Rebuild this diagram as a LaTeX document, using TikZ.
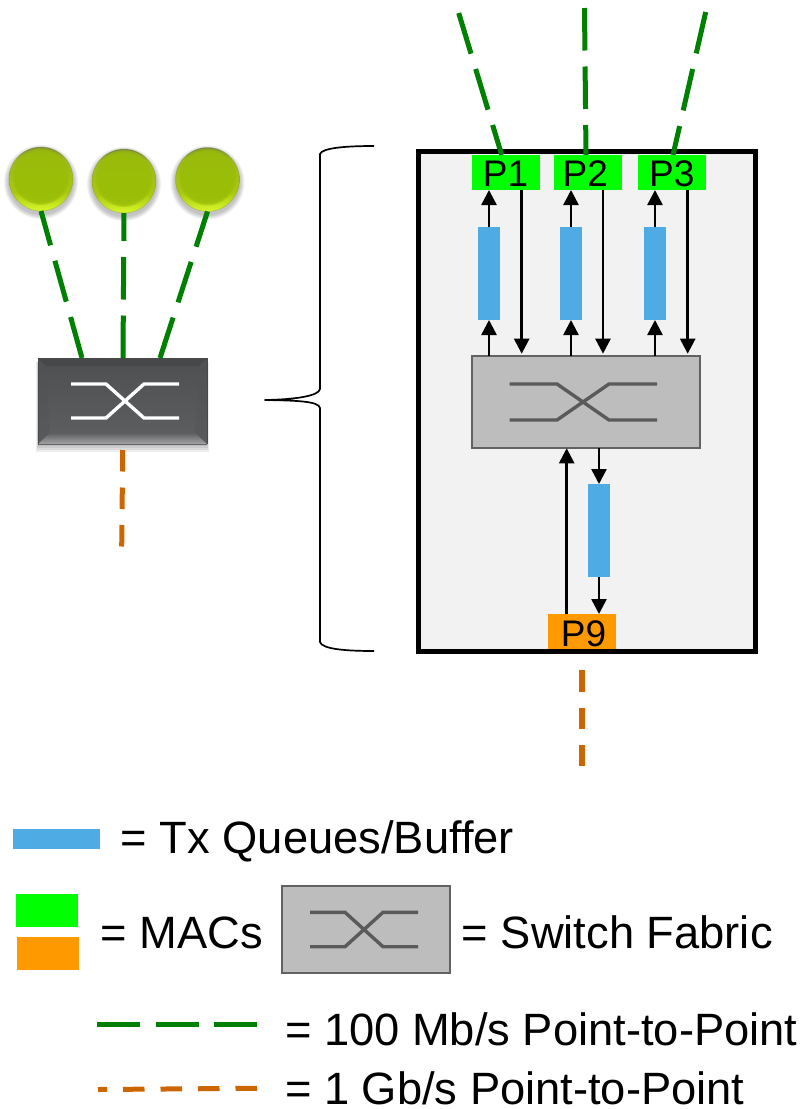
\documentclass[tikz,border=0pt]{standalone}
\usepackage{fontspec}
\setmainfont{Liberation Sans}
\usetikzlibrary{arrows.meta}
\definecolor{qblue}{HTML}{4EABE4}
\definecolor{macgreen}{HTML}{00FF00}
\definecolor{macorange}{HTML}{FF9900}
\definecolor{fabgray}{HTML}{BDBDBD}
\definecolor{fabline}{HTML}{626262}
\definecolor{crossgray}{HTML}{5A5A5A}
\definecolor{linkgreen}{HTML}{008000}
\definecolor{linkbrown}{HTML}{CC6600}
\definecolor{panel}{HTML}{F2F2F2}
\definecolor{ballrim}{HTML}{7C8A40}
\definecolor{balltop}{HTML}{9DB820}
\definecolor{ballside}{HTML}{A8C80E}
\definecolor{balllow}{HTML}{D8F82C}
\definecolor{ballmain}{HTML}{9ABD08}
\definecolor{swupper}{HTML}{4E4F51}
\definecolor{swlower}{HTML}{5E5F61}
\definecolor{swtop}{HTML}{47484A}
\definecolor{swside}{HTML}{525355}
\definecolor{swbeva}{HTML}{5E5F61}
\definecolor{swbevb}{HTML}{A4A4A6}
\definecolor{swedge}{HTML}{48484A}
\pgfdeclareverticalshading{ballshade}{100bp}{
  color(0bp)=(balllow); color(25bp)=(balllow); color(40bp)=(ballside); color(66bp)=(balltop);
  color(75bp)=(ballrim); color(100bp)=(ballrim)}
\tikzset{
  box/.style={rectangle,inner sep=0pt,outer sep=0pt,minimum width=#1},
  qbox/.style={box=22pt,minimum height=93pt,fill=qblue},
  macg/.style={box=68pt,minimum height=35pt,fill=macgreen},
  maco/.style={box=68pt,minimum height=35pt,fill=macorange},
  fabric/.style={rectangle,inner sep=0pt,outer sep=0pt,fill=fabgray,draw=fabline,line width=2pt},
  crossline/.style={crossgray,line width=3.4pt,line join=miter},
  whitecross/.style={white,line width=3.4pt,line join=miter},
  hundred/.style={linkgreen,line width=5pt,dash pattern=on 42.5pt off 16pt},
  gig/.style={linkbrown,line width=5pt,dash pattern=on 21.5pt off 16pt},
  arr/.style={black,line width=2.5pt,-{Triangle[length=15pt,width=15pt]}},
  ball/.style={circle,inner sep=0pt,outer sep=0pt,minimum size=64pt,shading=ballshade},
  ptext/.style={inner sep=0pt,outer sep=0pt,anchor=base,font=\fontsize{37}{40}\selectfont},
  ltext/.style={inner sep=0pt,outer sep=0pt,anchor=base west,font=\fontsize{45.3}{50}\selectfont},
}
\begin{document}
\begin{tikzpicture}[x=1pt,y=-1pt]
\useasboundingbox (0,0) rectangle (803,1109);
% --- left: end stations and switch
\foreach \cx/\cy in {41/179,124/181,207.5/179.5}{
  \foreach \rr in {37,36,35,34,33}{
    \fill[black,opacity=.05] (\cx,\cy+3) circle (\rr);
  }
}
\node[ball] (c1) at (41,179) {};
\node[ball] (c2) at (124,181) {};
\node[ball] (c3) at (207.5,179.5) {};
\foreach \nn in {c1,c2,c3}{
  \foreach \rr in {28.5,27.5,26.5,25.5}{
    \fill[ballmain,opacity=.45] ([yshift=2.5pt]\nn.center) circle (\rr);
  }
  \draw[ballrim,line width=.6pt,opacity=.4] (\nn.center) circle (32);
}
\foreach \kk in {0,1,2,3}{
  \fill[black,opacity=.07] (38-\kk*.6,362) rectangle (207+\kk*.6,446+\kk*2);
}
\node[rectangle,inner sep=0pt,outer sep=0pt,minimum width=169pt,minimum height=86pt,top color=swupper,bottom color=swlower] (sw) at (122.5,401) {};
\fill[swtop] (38,358) -- (207,358) -- (199,366) -- (46,366) -- cycle;
\fill[swside,opacity=.35] (38,358) -- (46,366) -- (50,433) -- (38,444) -- cycle;
\fill[swside,opacity=.35] (207,358) -- (199,366) -- (195,433) -- (207,444) -- cycle;
\shade[top color=swbeva,bottom color=swbevb] (38,444) -- (207,444) -- (195,433) -- (50,433) -- cycle;
\draw[swedge,line width=.6pt] (38,358) -- (207,358) -- (207,444) (38,444) -- (38,358);
\draw[whitecross] (71,384) -- (106,384) -- (144,418) -- (179,418);
\draw[whitecross] (71,418) -- (106,418) -- (144,384) -- (179,384);
\draw[hundred] ([xshift=-40.5pt]sw.north) -- (c1.south);
\draw[hundred] ([xshift=.5pt]sw.north) -- (c2.south);
\draw[hundred] ([xshift=37.5pt]sw.north) -- (c3.south);
\coordinate (la) at (122.7,450);
\coordinate (lb) at (121.7,547);
\draw[gig] (la) -- (lb);
% --- brace
\draw[black,line width=1.7pt,line join=round] (374,146) .. controls (345,146) and (322,148) .. (320,154)
  -- (320,389) .. controls (319,396) and (295,399.5) .. (265,400)
  .. controls (295,400.5) and (319,401) .. (320,408)
  -- (320,642) .. controls (322,649) and (345,651) .. (374,651);
% --- right: panel
\node[rectangle,inner sep=0pt,outer sep=0pt,minimum width=336.6pt,minimum height=499.6pt,fill=panel,draw=black,line width=4.8pt] (panel) at (587,401.5) {};
\coordinate (t1) at (458.7,13);
\coordinate (t2) at (584.5,8);
\coordinate (t3) at (705.7,12);
\node[macg] (p1) at (506,172.5) {};
\node[macg] (p2) at (588,172.5) {};
\node[macg] (p3) at (672,172.5) {};
\node[maco] (p9) at (582,631.5) {};
\draw[hundred] (t1) -- ([xshift=-4.3pt]p1.north);
\draw[hundred] (t2) -- ([xshift=-2pt]p2.north);
\draw[hundred] (t3) -- ([xshift=1pt]p3.north);
\node[ptext] (p1t) at (505.5,186) {P1};
\node[ptext] (p2t) at (585.3,186) {P2};
\node[ptext] (p3t) at (671.7,186) {P3};
\node[ptext] (p9t) at (583.5,646) {P9};
\node[qbox] (q1) at (489,273.5) {};
\node[qbox] (q2) at (571,273.5) {};
\node[qbox] (q3) at (655,273.5) {};
\node[qbox] (q4) at (599,530.5) {};
\node[fabric,minimum width=228pt,minimum height=92.6pt] (fab) at (586,402) {};
\draw[crossline] (509.7,384) -- (557,384) -- (609,420) -- (657,420);
\draw[crossline] (509.7,420) -- (557,420) -- (609,384) -- (657,384);
\draw[arr] (q1.south |- fab.north) -- (q1.south);
\draw[arr] (q2.south |- fab.north) -- (q2.south);
\draw[arr] (q3.south |- fab.north) -- (q3.south);
\draw[arr] (q1.north) -- (q1.north |- p1.south);
\draw[arr] (q2.north) -- (q2.north |- p2.south);
\draw[arr] (q3.north) -- (q3.north |- p3.south);
\draw[arr,shorten >=2pt] ([xshift=15.7pt]p1.south) -- ([xshift=15.7pt]p1.south |- fab.north);
\draw[arr,shorten >=2pt] ([xshift=15pt]p2.south) -- ([xshift=15pt]p2.south |- fab.north);
\draw[arr,shorten >=2pt] ([xshift=15.7pt]p3.south) -- ([xshift=15.7pt]p3.south |- fab.north);
\draw[arr] ([xshift=-15.3pt]p9.north) -- ([xshift=-15.3pt]p9.north |- fab.south);
\draw[arr] (q4.north |- fab.south) -- (q4.north);
\draw[arr] (q4.south) -- (q4.south |- p9.north);
\coordinate (ra) at (582,670);
\coordinate (rb) at (582,766);
\draw[gig,line width=5.4pt] (ra) -- (rb);
% --- legend
\node[rectangle,inner sep=0pt,outer sep=0pt,minimum width=87pt,minimum height=20pt,fill=qblue] (lgq) at (56.5,839) {};
\node[ltext] (lgqt) at (120.8,853) {= Tx Queues/Buffer};
\node[rectangle,inner sep=0pt,outer sep=0pt,minimum width=62pt,minimum height=33pt,fill=macgreen] (lgg) at (47,910.5) {};
\node[rectangle,inner sep=0pt,outer sep=0pt,minimum width=62pt,minimum height=33pt,fill=macorange] (lgo) at (48,953.5) {};
\node[ltext] (lgmt) at (100.8,948) {= MACs};
\node[fabric,minimum width=168pt,minimum height=87pt] (lgf) at (366,929.5) {};
\draw[crossline] (310,912.3) -- (345,912.3) -- (383,946.7) -- (418,946.7);
\draw[crossline] (310,946.7) -- (345,946.7) -- (383,912.3) -- (418,912.3);
\node[ltext] (lgft) at (461.8,948) {= Switch Fabric};
\coordinate (lg1a) at (97,1024.7);
\coordinate (lg1b) at (257,1024.7);
\draw[hundred,dash pattern=on 43pt off 15.5pt] (lg1a) -- (lg1b);
\coordinate (lg2a) at (257,1088.3);
\coordinate (lg2b) at (98,1089.5);
\draw[gig] (lg2a) -- (lg2b);
\node[ltext] (lg1t) at (285,1045) {= 100 Mb/s Point-to-Point};
\node[ltext] (lg2t) at (285,1104.8) {= 1 Gb/s Point-to-Point};
\end{tikzpicture}
\end{document}
